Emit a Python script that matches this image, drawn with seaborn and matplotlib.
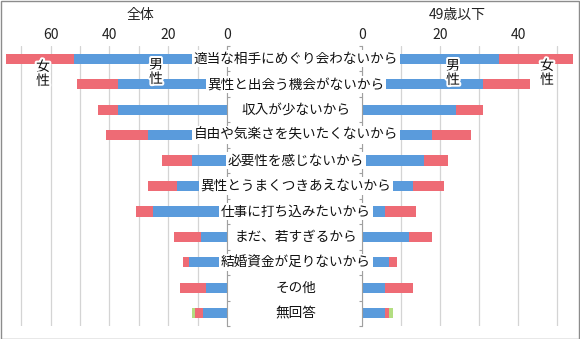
import numpy as np
import pandas as pd
import matplotlib
matplotlib.use('Agg')
import matplotlib.pyplot as plt
import seaborn as sns
import matplotlib.patheffects as pe
from matplotlib.patches import Rectangle

categories = ['適当な相手にめぐり会わないから', '異性と出会う機会がないから', '収入が少ないから',
              '自由や気楽さを失いたくないから', '必要性を感じないから', '異性とうまくつきあえないから',
              '仕事に打ち込みたいから', 'まだ、若すぎるから', '結婚資金が足りないから', 'その他', '無回答']
all_male = [52, 37, 37, 27, 12, 17, 25, 9, 13, 7, 8]
all_female = [23, 14, 7, 14, 10, 10, 6, 9, 2, 9, 3]
all_other = [0, 0, 0, 0, 0, 0, 0, 0, 0, 0, 1]
young_male = [35, 31, 24, 18, 16, 13, 6, 12, 7, 6, 6]
young_female = [19, 12, 7, 10, 6, 8, 8, 6, 2, 7, 1]
young_other = [0, 0, 0, 0, 0, 0, 0, 0, 0, 0, 1]

sns.set_style('white')
plt.rcParams['font.family'] = ['Noto Sans CJK JP', 'DejaVu Sans']

W, H = 580, 339
fig = plt.figure(figsize=(5.8, 3.39), dpi=100)


def px(x0, y0, x1, y1):
    return [x0 / W, 1 - y1 / H, (x1 - x0) / W, (y1 - y0) / H]


axL = fig.add_axes(px(5, 46, 227, 326))
axR = fig.add_axes(px(361.7, 46, 576, 326))

BLUE = '#5A9BDC'
RED = '#EE6B75'
GREEN = '#B3DE81'


def draw(ax, male, female, other):
    df = pd.DataFrame({'cat': categories,
                       'm': male,
                       'mf': np.add(male, female),
                       'mfo': np.add(np.add(male, female), other)})
    for col, c in [('mfo', GREEN), ('mf', RED), ('m', BLUE)]:
        sns.barplot(data=df, y='cat', x=col, order=categories, orient='h',
                    color=c, width=0.4, linewidth=0, saturation=1, ax=ax)
    ax.set_ylim(10.5, -0.5)
    ax.set_xlabel('')
    ax.set_ylabel('')
    ax.xaxis.tick_top()
    ax.set_xticks([0, 20, 40, 60] if ax is axL else [0, 20, 40])
    ax.set_xticks([10, 30, 50, 70] if ax is axL else [10, 30, 50], minor=True)
    ax.tick_params(axis='x', which='both', length=0, labelsize=10, labelcolor='#222222', pad=3)
    ax.grid(axis='x', which='both', color='#D4D4D4', lw=0.9)
    ax.set_axisbelow(True)
    ax.set_yticks(np.arange(-0.5, 11, 1))
    ax.set_yticklabels([])
    ax.tick_params(axis='y', length=2.5, color='#A0A0A0', direction='out')
    for s in ax.spines.values():
        s.set_visible(False)


draw(axL, all_male, all_female, all_other)
axL.set_xlim(75.5, 0)
axL.yaxis.tick_right()
axL.spines['right'].set_visible(True)
axL.spines['right'].set_color('#A0A0A0')

draw(axR, young_male, young_female, young_other)
axR.set_xlim(0, 54.8)
axR.yaxis.tick_left()
axR.spines['left'].set_visible(True)
axR.spines['left'].set_color('#A0A0A0')

for i, cat in enumerate(categories):
    yc = 46 + (i + 0.5) * 280 / 11
    fig.text(296 / W, 1 - yc / H, cat, ha='center', va='center', fontsize=9.8,
             color='#111111',
             bbox=dict(boxstyle='square,pad=0.12', fc='white', ec='none'))

glow = [pe.withStroke(linewidth=3, foreground='white')]
for x, y, t in [(43, 74, '女\n性'), (156, 72, '男\n性'), (453, 73, '男\n性'), (547, 73, '女\n性')]:
    fig.text(x / W, 1 - y / H, t, ha='center', va='center', fontsize=10,
             linespacing=1.0, color='#111111', path_effects=glow)

fig.text(140 / W, 1 - 15 / H, '全体', ha='center', va='center', fontsize=10, color='#222222')
fig.text(457 / W, 1 - 15 / H, '49歳以下', ha='center', va='center', fontsize=10, color='#222222')

fig.add_artist(Rectangle((0.5 / W, 0.5 / H), 1 - 1.5 / W, 1 - 1.5 / H, fill=False,
                         ec='#8C8C8C', lw=1, transform=fig.transFigure))

fig.savefig('out.png', dpi=100)
